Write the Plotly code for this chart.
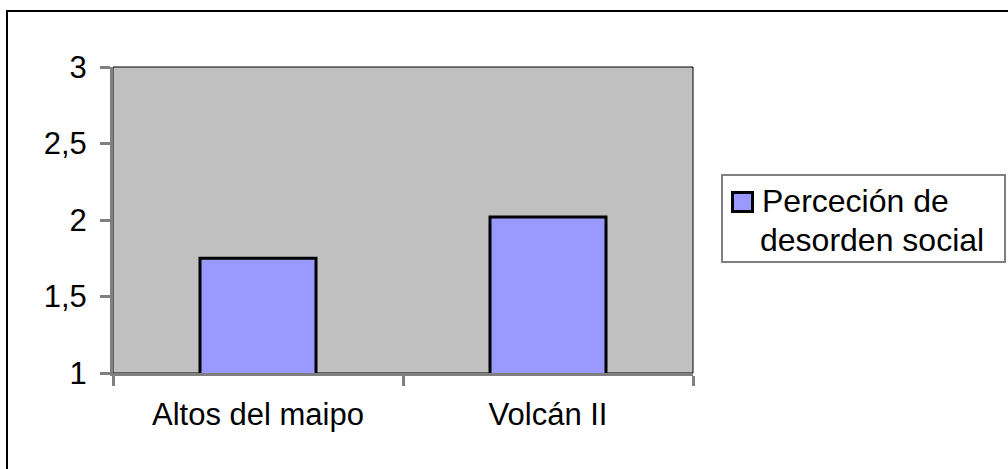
import plotly.graph_objects as go

# Data
categories = ["Altos del maipo", "Volcán II"]
values = [1.75, 2.02]
series_name = "Perceción de desorden social"
legend_lines = ["Perceción de", "desorden social"]
y_ticks = [1, 1.5, 2, 2.5, 3]

BAR_FILL = "#9999FF"
PLOT_BG = "#C0C0C0"
AXIS_GRAY = "#808080"
FONT = "Liberation Sans, Arial, sans-serif"
FS = 31

W, H = 1008, 469
L, R, T, B = 113, 315, 67, 96
pw, ph = W - L - R, H - T - B


def px(x):
    return (x - L) / pw


def py(y):
    return (H - B - y) / ph


fig = go.Figure(
    go.Bar(
        x=categories,
        y=values,
        name=series_name,
        width=0.4,
        marker=dict(color=BAR_FILL, line=dict(color="black", width=3)),
        showlegend=False,
    )
)

shapes = [
    # frame around the plot area (top/right edges stay visible)
    dict(type="rect", xref="paper", yref="paper", x0=0, x1=1, y0=0, y1=1,
         line=dict(color="black", width=1), layer="below"),
    # outer chart border
    dict(type="rect", xref="paper", yref="paper",
         x0=px(7), x1=px(1015), y0=py(11), y1=py(480),
         line=dict(color="black", width=2)),
    # legend box
    dict(type="rect", xref="paper", yref="paper",
         x0=px(722), x1=px(1005), y0=py(175), y1=py(262),
         line=dict(color=AXIS_GRAY, width=2), fillcolor="white"),
    # legend key
    dict(type="rect", xref="paper", yref="paper",
         x0=px(732.5), x1=px(752.5), y0=py(192.5), y1=py(211.5),
         line=dict(color="black", width=3), fillcolor=BAR_FILL),
]

annotations = [
    dict(text=legend_lines[0], xref="paper", yref="paper",
         x=px(760), y=py(201), xanchor="left", yanchor="middle",
         showarrow=False, font=dict(family=FONT, size=FS + 1, color="black")),
    dict(text=legend_lines[1], xref="paper", yref="paper",
         x=px(758), y=py(240), xanchor="left", yanchor="middle",
         showarrow=False, font=dict(family=FONT, size=FS + 1, color="black")),
]

fig.update_layout(
    width=W,
    height=H,
    margin=dict(l=L, r=R, t=T, b=B, pad=0),
    paper_bgcolor="white",
    plot_bgcolor=PLOT_BG,
    separators=",.",
    font=dict(family=FONT, size=FS, color="black"),
    shapes=shapes,
    annotations=annotations,
    showlegend=False,
)

fig.update_xaxes(
    type="category",
    range=[-0.5, 1.5],
    showgrid=False,
    showline=True,
    linecolor=AXIS_GRAY,
    linewidth=3,
    ticks="outside",
    tickson="boundaries",
    ticklen=10,
    tickwidth=3,
    tickcolor=AXIS_GRAY,
    ticklabelstandoff=12,
    tickfont=dict(family=FONT, size=FS, color="black"),
)

fig.update_yaxes(
    range=[1, 3],
    tickvals=y_ticks,
    showgrid=False,
    zeroline=False,
    showline=True,
    linecolor=AXIS_GRAY,
    linewidth=3,
    ticks="outside",
    ticklen=10,
    tickwidth=3,
    tickcolor=AXIS_GRAY,
    ticklabelstandoff=7,
    tickfont=dict(family=FONT, size=FS, color="black"),
)

fig.write_html("out.html")
